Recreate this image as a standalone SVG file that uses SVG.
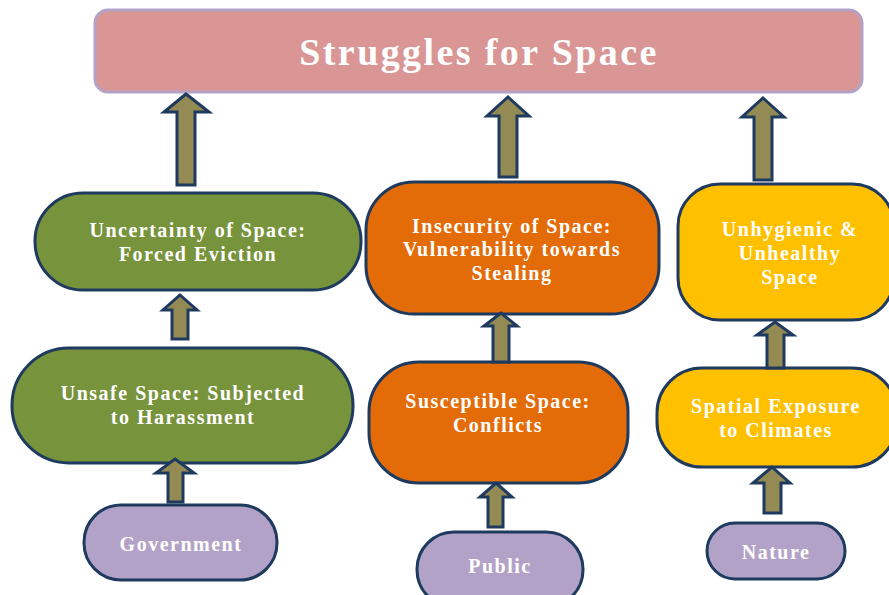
<svg xmlns="http://www.w3.org/2000/svg" width="889" height="595" viewBox="0 0 889 595">
<style>
.n{stroke:#1F3A5F;stroke-width:3}
.g{fill:#77933C}.o{fill:#E36C09}.y{fill:#FFC000}.p{fill:#B3A2C7}
.t{font-family:"Liberation Serif","Times New Roman",serif;font-weight:bold;fill:#FFFFFF;text-anchor:middle;font-size:20px;letter-spacing:1.5px}
.a{fill:#948A54;stroke:#1F3A5F;stroke-width:3;stroke-linejoin:miter}
</style>
<rect width="889" height="595" fill="#FFFFFF"/>
<g id="title">
<rect x="95" y="10" width="767" height="82" rx="13" fill="#D99694" stroke="#B3A2C7" stroke-width="3"/>
<text x="479" y="65" class="t" style="font-size:38px;letter-spacing:2.4px">Struggles for Space</text>
</g>
<g id="uncertainty">
<rect x="35" y="193" width="326" height="97" rx="48" class="n g"/>
<text x="198" y="237" class="t">Uncertainty of Space:</text>
<text x="198" y="261" class="t">Forced Eviction</text>
</g>
<g id="insecurity">
<rect x="366" y="182" width="293" height="132" rx="48" class="n o"/>
<text x="512" y="233" class="t">Insecurity of Space:</text>
<text x="512" y="256" class="t">Vulnerability towards</text>
<text x="512" y="280" class="t">Stealing</text>
</g>
<g id="unhygienic">
<rect x="678" y="184" width="216" height="136" rx="42" class="n y"/>
<text x="790" y="236" class="t">Unhygienic &amp;</text>
<text x="790" y="260" class="t">Unhealthy</text>
<text x="790" y="284" class="t">Space</text>
</g>
<g id="unsafe">
<rect x="12" y="348" width="341" height="115" rx="57" class="n g"/>
<text x="183" y="400" class="t">Unsafe Space: Subjected</text>
<text x="183" y="424" class="t">to Harassment</text>
</g>
<g id="susceptible">
<rect x="369" y="362" width="259" height="121" rx="50" class="n o"/>
<text x="498" y="408" class="t">Susceptible Space:</text>
<text x="498" y="432" class="t">Conflicts</text>
</g>
<g id="exposure">
<rect x="657" y="368" width="240" height="99" rx="45" class="n y"/>
<text x="776" y="413" class="t">Spatial Exposure</text>
<text x="776" y="437" class="t">to Climates</text>
</g>
<g id="government">
<rect x="84" y="505" width="193" height="75" rx="37" class="n p"/>
<text x="181" y="551" class="t">Government</text>
</g>
<g id="public">
<rect x="417" y="532" width="166" height="75" rx="37" class="n p"/>
<text x="500" y="573" class="t">Public</text>
</g>
<g id="nature">
<rect x="707" y="523" width="138" height="56" rx="28" class="n p"/>
<text x="776" y="559" class="t">Nature</text>
</g>
<g id="connectors">
<path class="a" d="M186,94 L209,112 L195,112 L195,185 L177,185 L177,112 L164,112 Z"/>
<path class="a" d="M508,97 L529,116 L517,116 L517,177 L499,177 L499,116 L487,116 Z"/>
<path class="a" d="M763,98 L784,117 L772,117 L772,180 L754,180 L754,117 L742,117 Z"/>
<path class="a" d="M180,295 L197,310 L188,310 L188,339 L172,339 L172,310 L163,310 Z"/>
<path class="a" d="M175,459 L194,473 L183,473 L183,502 L168,502 L168,473 L156,473 Z"/>
<path class="a" d="M501,313 L517,326 L509,326 L509,362 L493,362 L493,326 L484,326 Z"/>
<path class="a" d="M496,483 L512,497 L503,497 L503,527 L488,527 L488,497 L480,497 Z"/>
<path class="a" d="M775,322 L793,335 L784,335 L784,368 L767,368 L767,335 L757,335 Z"/>
<path class="a" d="M772,467 L790,483 L781,483 L781,513 L764,513 L764,483 L753,483 Z"/>
</g>
</svg>
